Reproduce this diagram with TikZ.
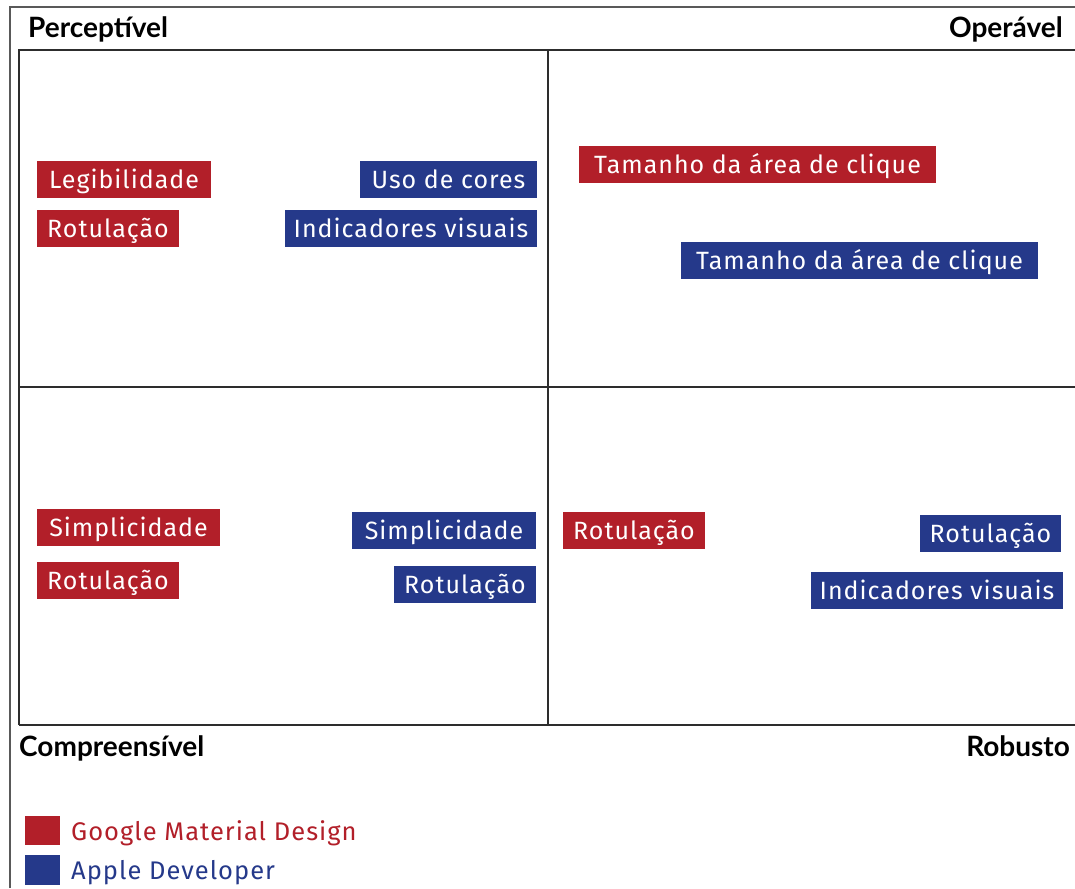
\documentclass[tikz,border=0pt]{standalone}
\usepackage{fontspec}
\setmainfont{Fira Sans}
\newfontfamily\tagfont{Fira Sans}[LetterSpace=4]
\newfontfamily\headfont{Lato}
\definecolor{gmdred}{RGB}{178,31,41}
\definecolor{appleblue}{RGB}{37,57,138}
\definecolor{gridline}{RGB}{45,45,45}
\tikzset{
  tag/.style={inner sep=0pt, text=white, font=\tagfont\fontsize{25}{30}\selectfont,
    text height=22pt, text depth=4pt, minimum height=37},
  redtag/.style={tag, fill=gmdred},
  bluetag/.style={tag, fill=appleblue},
  heading/.style={font=\headfont\bfseries\fontsize{28}{32}\selectfont, inner sep=0pt, text=black},
  legendtext/.style={font=\tagfont\fontsize{25.5}{30}\selectfont, inner sep=0pt, anchor=base west},
  grid/.style={draw=gridline, line width=2},
}
\begin{document}
\begin{tikzpicture}[x=1pt,y=-1pt]
\useasboundingbox (0,0) rectangle (1075,888);
\fill[white] (0,0) rectangle (1075,888);
% outer frame
\draw[gray!70!black, line width=1.6] (10,888) -- (10,7) -- (1075,7);
% quadrant grid
\draw[grid] (19,725) -- (19,50) -- (1075,50);
\draw[grid] (19,725) -- (1075,725);
\draw[grid] (548,50) -- (548,725);
\draw[grid] (19,387) -- (1075,387);
% corner headings
\node[heading, anchor=base west] (perc) at (28,38) {Perceptível};
\node[heading, anchor=base east] (oper) at (1063,38) {Operável};
\node[heading, anchor=base west] (comp) at (19,756) {Compreensível};
\node[heading, anchor=base east] (robu) at (1070,756) {Robusto};
% top-left quadrant
\node[redtag, minimum width=174] (tl1) at (124,179.5) {Legibilidade};
\node[redtag, minimum width=142] (tl2) at (108,228) {Rotulação};
\node[bluetag, minimum width=177] (tl3) at (448.5,179.5) {Uso de cores};
\node[bluetag, minimum width=252] (tl4) at (411,228) {Indicadores visuais};
% top-right quadrant
\node[redtag, minimum width=357] (tr1) at (757.5,164) {Tamanho da área de clique};
\node[bluetag, minimum width=357] (tr2) at (859.5,260) {Tamanho da área de clique};
% bottom-left quadrant
\node[redtag, minimum width=183] (bl1) at (128.5,527.5) {Simplicidade};
\node[redtag, minimum width=142] (bl2) at (108,580) {Rotulação};
\node[bluetag, minimum width=184] (bl3) at (444,530) {Simplicidade};
\node[bluetag, minimum width=142] (bl4) at (465,584) {Rotulação};
% bottom-right quadrant
\node[redtag, minimum width=142] (br1) at (634,530) {Rotulação};
\node[bluetag, minimum width=141] (br2) at (990.5,533) {Rotulação};
\node[bluetag, minimum width=252] (br3) at (937,590) {Indicadores visuais};
% legend
\node[fill=gmdred, minimum width=35, minimum height=29, inner sep=0pt] (lg1) at (42.5,830.5) {};
\node[legendtext, text=gmdred] (lt1) at (71,840) {Google Material Design};
\node[fill=appleblue, minimum width=35, minimum height=30, inner sep=0pt] (lg2) at (42.5,870) {};
\node[legendtext, text=appleblue] (lt2) at (71,879) {Apple Developer};
\end{tikzpicture}
\end{document}
